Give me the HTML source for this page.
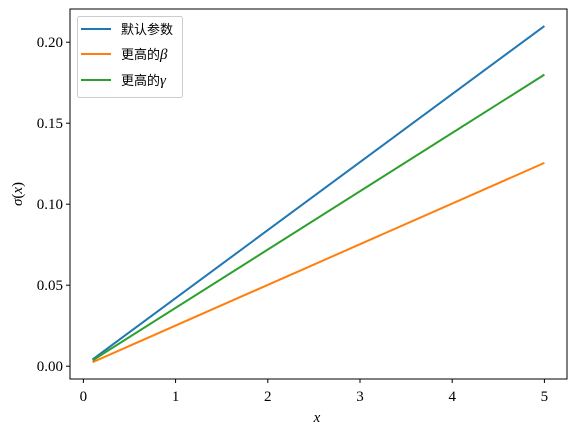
<!DOCTYPE html>
<html><head><meta charset="utf-8"><style>
body{margin:0;background:#fff}
text{font-family:"Liberation Serif","Noto Serif CJK SC",serif;font-size:15px;fill:#000}
.cjk{font-family:"Noto Sans CJK SC",sans-serif;font-size:13px}
</style></head><body>
<svg id="c" width="575" height="436" xmlns="http://www.w3.org/2000/svg"></svg>
<script>
const xs=[0.1,5];
const blueVals=[0.0042,0.21];
const orangeVals=[0.0025,0.1255];
const greenVals=[0.0036,0.18];
const xTicks=[0,1,2,3,4,5];
const yTicks=[0,0.05,0.10,0.15,0.20];
const yTickLabels=["0.00","0.05","0.10","0.15","0.20"];
const L=70,R=567,T=9,B=379;
const xmin=-0.145,xmax=5.245,ymin=-0.0079,ymax=0.2205;
const X=v=>L+(v-xmin)/(xmax-xmin)*(R-L);
const Y=v=>B-(v-ymin)/(ymax-ymin)*(B-T);
const svg=document.getElementById('c');
const NS='http://www.w3.org/2000/svg';
function mk(t,a,p){const e=document.createElementNS(NS,t);for(const k in a)e.setAttribute(k,a[k]);(p||svg).appendChild(e);return e;}
const series=[[blueVals,'#1f77b4','line-default'],[orangeVals,'#ff7f0e','line-higher-beta'],[greenVals,'#2ca02c','line-higher-gamma']];
series.forEach(s=>{const p=mk('polyline',{points:xs.map((x,i)=>X(x)+','+Y(s[0][i])).join(' '),fill:'none',stroke:s[1],'stroke-width':2});

});
const fr=mk('rect',{x:L,y:T,width:R-L,height:B-T,fill:'none',stroke:'#000','stroke-width':1});


xTicks.forEach(v=>{mk('line',{x1:X(v),x2:X(v),y1:B,y2:B+4,stroke:'#000'});
const t=mk('text',{x:X(v),y:B+22,'text-anchor':'middle'});t.textContent=v;

});
yTicks.forEach((v,i)=>{mk('line',{x1:L-4,x2:L,y1:Y(v),y2:Y(v),stroke:'#000'});
const t=mk('text',{x:L-7,y:Y(v)+5,'text-anchor':'end'});t.textContent=yTickLabels[i];

});
</script>
<svg width="575" height="436" style="position:absolute;left:0;top:0" xmlns="http://www.w3.org/2000/svg">
<text x="317" y="422" text-anchor="middle" font-style="italic">x</text>
<text transform="translate(22,194) rotate(-90)" text-anchor="middle"><tspan font-style="italic">σ</tspan>(<tspan font-style="italic">x</tspan>)</text>
<g>
<rect x="77.5" y="16.5" width="105" height="81" rx="2" fill="#fff" fill-opacity="0.8" stroke="#ccc"/>
<line x1="81" x2="111" y1="29" y2="29" stroke="#1f77b4" stroke-width="2"/>
<text class="cjk" x="121" y="34">默认参数</text>
<line x1="81" x2="111" y1="54" y2="54" stroke="#ff7f0e" stroke-width="2"/>
<text x="121" y="59"><tspan class="cjk">更高的</tspan><tspan font-style="italic">β</tspan></text>
<line x1="81" x2="111" y1="80" y2="80" stroke="#2ca02c" stroke-width="2"/>
<text x="121" y="85"><tspan class="cjk">更高的</tspan><tspan font-style="italic">γ</tspan></text>
</g>
</svg>
</body></html>
